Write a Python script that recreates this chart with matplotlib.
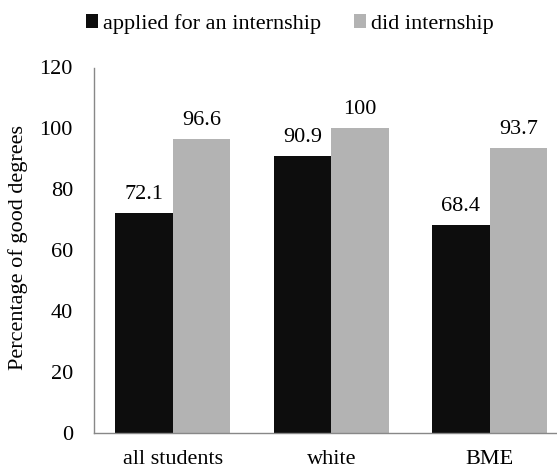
import matplotlib
matplotlib.use("Agg")
import matplotlib.pyplot as plt
import numpy as np

categories = ["all students", "white", "BME"]
applied = [72.1, 90.9, 68.4]
did = [96.6, 100, 93.7]
series_names = ["applied for an internship", "did internship"]
yticks = [0, 20, 40, 60, 80, 100, 120]

plt.rcParams["font.family"] = ["Liberation Serif", "DejaVu Serif"]
FS = 16

fig = plt.figure(figsize=(5.57, 4.68), dpi=100)
left, bottom, top = 93.8, 433, 67.5
ax = fig.add_axes([left / 557, 1 - bottom / 468, (557 - left) / 557, (bottom - top) / 468])

x = np.arange(len(categories))
w = 0.363
b1 = ax.bar(x - w / 2, applied, w, color="#0d0d0d", label=series_names[0])
b2 = ax.bar(x + w / 2, did, w, color="#b3b3b3", label=series_names[1])

for bars, vals in ((b1, applied), (b2, did)):
    for r, v in zip(bars, vals):
        ax.annotate(f"{v:g}", (r.get_x() + r.get_width() / 2, v),
                    xytext=(0, 6.5), textcoords="offset points",
                    ha="center", va="bottom", fontsize=FS)

ax.set_ylim(0, 120)
ax.set_xlim(-0.5, (557 - left) / 158.3 - 0.5)
ax.set_yticks(yticks)
ax.set_xticks(x)
ax.set_xticklabels(categories)
ax.tick_params(axis="both", length=0, labelsize=FS)
ax.tick_params(axis="x", pad=12)
ax.tick_params(axis="y", pad=15)

fig.text(18 / 557, 1 - 248 / 468, "Percentage of good degrees", rotation=90,
         ha="center", va="center", fontsize=FS)

for s in ("top", "right"):
    ax.spines[s].set_visible(False)
for s in ("left", "bottom"):
    ax.spines[s].set_color("#888888")
    ax.spines[s].set_linewidth(1)

fig.legend(handles=[b1, b2], loc="center", bbox_to_anchor=(290 / 557, 1 - 24 / 468),
           ncol=2, frameon=False, fontsize=FS, handlelength=0.54, handleheight=0.54,
           handletextpad=0.22, columnspacing=1.5, borderpad=0, borderaxespad=0)

fig.savefig("out.png", dpi=100)
